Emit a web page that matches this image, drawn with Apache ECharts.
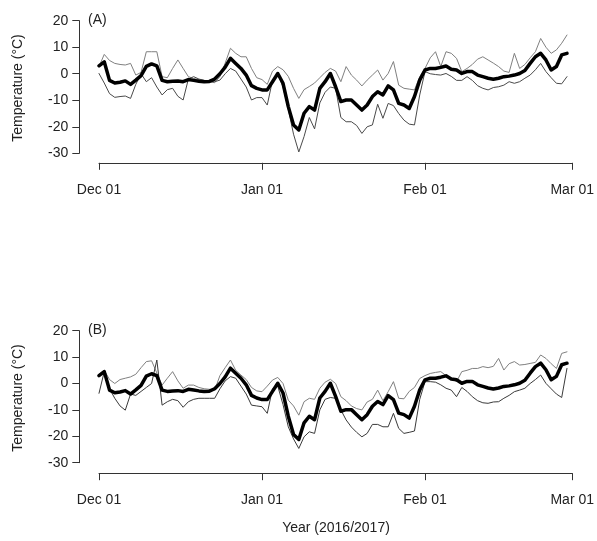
<!DOCTYPE html>
<html>
<head>
<meta charset="utf-8">
<script src="https://cdn.jsdelivr.net/npm/echarts@6/dist/echarts.min.js"></script>
<style>
html,body{margin:0;padding:0;background:#fff;}
#c{width:597px;height:541px;}
</style>
</head>
<body>
<div id="c"></div>
<script>
// Day offsets from Dec 01 2016 for the axis ticks, and their labels
const tickDays = [0, 31, 62, 90];
const tickLabels = ["Dec 01", "Jan 01", "Feb 01", "Mar 01"];
const yTicks = [-30, -20, -10, 0, 10, 20];

// Observed mean temperature (thick line), same in both panels (Dec 01 .. Feb 28)
const meanTemp = [3.0, 4.5, -2.5, -3.5, -3.2, -2.7, -4, -2.4, -0.7, 2.8,
  3.7, 3.0, -2.5, -3, -2.8, -2.7, -3, -2.2, -2.5, -2.8,
  -3, -2.9, -2, 0, 2.5, 5.8, 3.9, 2.0, -0.5, -4.5,
  -5.5, -6.1, -6.1, -3, 0.1, -3.6, -12.4, -19.3, -21.2, -14.9,
  -12.4, -13.7, -5.5, -3, 0.1, -4.9, -10.5, -9.9, -9.9, -11.8,
  -13.7, -11.8, -8.6, -6.8, -8, -4.6, -6.1, -11.2, -11.8, -13.1,
  -8.6, -2.4, 1.4, 2, 2, 2.4, 2.9, 1.7, 1.4, 0.1,
  0.8, 0.8, -0.5, -1.1, -1.7, -2.1, -1.7, -1.1, -0.9, -0.5,
  0.1, 1.2, 3.9, 6.4, 7.7, 5.2, 1.4, 2.7, 7.1, 7.7];

// Panel (A) thin lines
const panelA1 = [2.7, 7.3, 5, 3.9, 3.5, 3.3, 3.9, -0.5, 0.5, 8.3,
  8.3, 8.3, -1.1, -1.5, 2, 5.2, 2, -1.1, -1.8, -2.2,
  -2.5, -3, -3.4, -1.1, 4, 9.6, 7.7, 6.4, 6.4, 2,
  -1.5, -2.2, -4, 1, 2.7, 1.5, -1, -5.5, -9.3, -6,
  -4.8, -3.5, -1.5, 0.5, 2, 1, -3, 2.7, -0.5, -2.4,
  -4.6, -2.4, -0.5, 1.4, -2.4, 0.1, 4.6, -4.3, -5.5, -5.8,
  -6.1, -1.1, 2, 6, 8.3, 2.7, 8.3, 7.7, 5.8, 0.8,
  2, 3.5, 5.5, 6.4, 5.2, 4, 2.7, 1, 0.5, 7.7,
  2, 3.5, 6, 8.3, 13.3, 10, 7.7, 9, 11.5, 14.6];
const panelA2 = [0.1, -3.5, -7.5, -8.9, -8.6, -8.4, -9.3, -4, 0, -3,
  -1.5, -5, -8, -6, -5.5, -8.5, -9.9, -2, -1.1, -2,
  -2.5, -3, -3, -2.4, 0, 2, 1, -2, -5, -9.9,
  -9, -9, -11.8, -2.5, 0, -5, -13.4, -22.8, -29.5, -23.7,
  -16.5, -20.8, -11, -7, -5, -5.5, -16.5, -18.1, -18.1, -19.5,
  -22.5, -20, -19.3, -11.5, -16.8, -11.2, -12, -15, -17.5, -19,
  -19.3, -8, 0.8, 0, -0.3, -0.5, 0.1, -1, -2.5, -2.5,
  -1.1, -2.5, -4.5, -5.5, -6.1, -5.2, -4.9, -4.3, -3, -3.6,
  -3, -1.7, -0.5, 1.5, 3.9, 0.8, -1.5, -3.6, -3.8, -1.1];

// Panel (B) thin lines
const panelB1 = [3.5, 5, 1.5, 0, 1.5, 2, 2.5, 3.5, 6, 8.3,
  8.6, 4, -0.6, 2, 4.5, 1, -1.8, -0.6, -0.6, -1.5,
  -2, -2.2, -2.5, 3, 6, 8.9, 5, 3.2, 1.5, -1.5,
  -2.8, -3.1, -1, 1.3, 2.3, 0, -6.3, -8.5, -12, -6.9,
  -5.6, -6, -1.8, 0.5, 1.6, 0, -5, -6.5, -8.5, -9.5,
  -10, -7, -6, -2.5, -6.5, -3.1, 0.7, -5.6, -5.8, -3,
  -1.5, 1.9, 3, 3.8, 4.2, 4.5, 3, 2, 0.7, 4.5,
  5, 5.7, 5.7, 6.4, 6, 6.5, 9.5, 5.1, 7.5, 8.3,
  7, 7.2, 7.6, 8, 10.8, 9.5, 7.5, 5.7, 11.4, 12];
const panelB2 = [-3.7, 4.5, -2, -5.6, -8.5, -10.1, -4, -4.5, -3, -1.5,
  0, 8.9, -8.2, -6.9, -6, -6.5, -9, -6.9, -6, -5.6,
  -5.6, -5.6, -5.6, -2, 1, 2.6, 2, -1, -4, -8.2,
  -8.5, -8.8, -11.3, -2, -1, -8, -16.4, -21, -24.6, -20.2,
  -18.3, -18.9, -10, -6, -5.3, -5.6, -10, -13.8, -16.5, -18.5,
  -20.2, -18.9, -15.5, -15.5, -16.4, -16.4, -11.3, -17, -18.9, -18.5,
  -18, -6, 0.7, 0.7, 0.5, -0.5, -1.8, -2.5, -5, -1.5,
  -3, -5, -6.5, -7.3, -7.5, -7, -6.9, -5.6, -4.5, -3.1,
  -2.5, -1.8, 0, 1.5, 3.2, 0.05, -2, -4, -5.3, 5.7];

const FONT = "'Liberation Sans', Arial, sans-serif";
const FS = 14;
function pairs(arr) { return arr.map(function (v, i) { return [i, v]; }); }

const chart = echarts.init(document.getElementById('c'), null, { renderer: 'canvas' });

function xAxisFor(g, off) {
  return {
    gridIndex: g, type: 'value', min: 0, max: 90, offset: off,
    axisLine: { show: true, onZero: false, lineStyle: { color: '#333', width: 1 } },
    axisTick: { show: true, length: 7, customValues: tickDays, lineStyle: { color: '#333', width: 1 } },
    axisLabel: { customValues: tickDays, margin: 20, color: '#222', fontSize: FS, fontFamily: FONT,
      formatter: function (v) { var k = tickDays.indexOf(v); return k >= 0 ? tickLabels[k] : ''; } },
    splitLine: { show: false }
  };
}
function yAxisFor(g) {
  return {
    gridIndex: g, type: 'value', min: yTicks[0], max: yTicks[yTicks.length - 1], interval: 10, offset: 19.7,
    axisLine: { show: true, onZero: false, lineStyle: { color: '#333', width: 1 } },
    axisTick: { show: true, length: 7, lineStyle: { color: '#333', width: 1 } },
    axisLabel: { margin: 11, color: '#222', fontSize: FS, fontFamily: FONT },
    splitLine: { show: false }
  };
}
function lineSeries(g, arr, color, width, z) {
  return {
    type: 'line', xAxisIndex: g, yAxisIndex: g, data: pairs(arr),
    symbol: 'none', clip: false, z: z, silent: true,
    lineStyle: { color: color, width: width, join: 'round', cap: 'round' }
  };
}

chart.setOption({
  animation: false,
  backgroundColor: '#fff',
  grid: [
    { left: 99, top: 20.7, width: 475.3, height: 132.6 },
    { left: 99, top: 330.7, width: 475.3, height: 132 }
  ],
  xAxis: [xAxisFor(0, 9.5), xAxisFor(1, 10.5)],
  yAxis: [yAxisFor(0), yAxisFor(1)],
  series: [
    lineSeries(0, panelA1, '#808080', 1, 2),
    lineSeries(0, panelA2, '#4a4a4a', 1, 2),
    lineSeries(0, meanTemp, '#000', 3.5, 3),
    lineSeries(1, panelB1, '#808080', 1, 2),
    lineSeries(1, panelB2, '#3a3a3a', 1, 2),
    lineSeries(1, meanTemp, '#000', 3.5, 3)
  ],
  graphic: [
    { type: 'text', left: 88, top: 13, style: { text: '(A)', fill: '#222', font: FS + 'px ' + FONT } },
    { type: 'text', left: 88, top: 323, style: { text: '(B)', fill: '#222', font: FS + 'px ' + FONT } },
    { type: 'text', x: 18, y: 88, rotation: Math.PI / 2,
      style: { text: 'Temperature (°C)', fill: '#222', font: FS + 'px ' + FONT, align: 'center', verticalAlign: 'middle' } },
    { type: 'text', x: 18, y: 398, rotation: Math.PI / 2,
      style: { text: 'Temperature (°C)', fill: '#222', font: FS + 'px ' + FONT, align: 'center', verticalAlign: 'middle' } },
    { type: 'text', x: 336, y: 528,
      style: { text: 'Year (2016/2017)', fill: '#222', font: FS + 'px ' + FONT, align: 'center', verticalAlign: 'middle' } }
  ]
});
</script>
</body>
</html>
